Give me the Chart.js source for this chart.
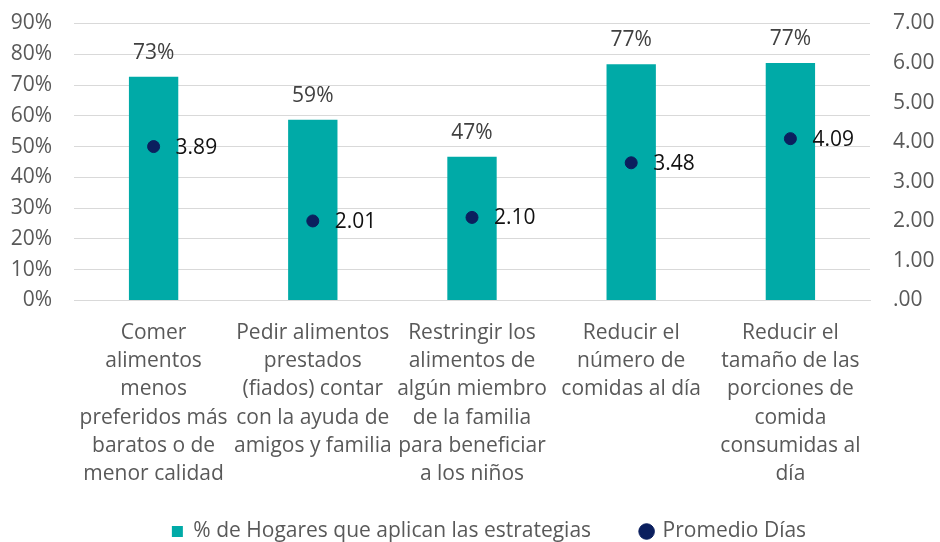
<!DOCTYPE html>
<html>
<head>
<meta charset="utf-8">
<script src="https://cdn.jsdelivr.net/npm/chart.js@4/dist/chart.umd.min.js"></script>
<style>
  html, body { margin: 0; padding: 0; background: #ffffff; }
  #wrap { width: 940px; height: 542px; position: relative; }
</style>
</head>
<body>
<div id="wrap"><canvas id="c" width="940" height="542"></canvas></div>
<script>
const categories = [
  ["Comer", "alimentos", "menos", "preferidos más", "baratos o de", "menor calidad"],
  ["Pedir alimentos", "prestados", "(fiados) contar", "con la ayuda de", "amigos y familia"],
  ["Restringir los", "alimentos de", "algún miembro", "de la familia", "para beneficiar", "a los niños"],
  ["Reducir el", "número de", "comidas al día"],
  ["Reducir el", "tamaño de las", "porciones de", "comida", "consumidas al", "día"]
];
const hogaresPct = [72.7, 58.7, 46.7, 76.8, 77.2];
const promedioDias = [3.89, 2.01, 2.10, 3.48, 4.09];
const seriesNames = ["% de Hogares que aplican las estrategias", "Promedio Días"];
const leftTicks = [0, 10, 20, 30, 40, 50, 60, 70, 80, 90];
const rightTicks = [0, 1, 2, 3, 4, 5, 6, 7];

const FONT = "'Open Sans', 'Noto Sans', sans-serif";
const FS = 21;
const TEAL = "#00aaa7";
const NAVY = "#0b1f5e";
const GRID = "#d9d9d9";

const noClipPlugin = {
  id: "noLabelClip",
  afterLayout(chart) {
    Object.values(chart.scales).forEach(s => { s._computeLabelArea = () => undefined; });
  }
};

const labelPlugin = {
  id: "valueLabels",
  afterDatasetsDraw(chart) {
    const ctx = chart.ctx;
    ctx.save();
    const m0 = chart.getDatasetMeta(0);
    ctx.font = FS + "px " + FONT;
    ctx.fillStyle = "#404040";
    ctx.textAlign = "center";
    ctx.textBaseline = "middle";
    m0.data.forEach((el, i) => {
      ctx.fillText(Math.round(hogaresPct[i]) + "%", el.x, el.y - 24);
    });
    const m1 = chart.getDatasetMeta(1);
    ctx.fillStyle = "#111111";
    ctx.textAlign = "left";
    m1.data.forEach((el, i) => {
      ctx.fillText(promedioDias[i].toFixed(2), el.x + 22, el.y + 1);
    });
    ctx.restore();
  }
};

function noVertPadding(scale) {
  scale.paddingTop = 0;
  scale.paddingBottom = 0;
}

new Chart(document.getElementById("c"), {
  data: {
    labels: categories,
    datasets: [
      {
        type: "bar",
        label: seriesNames[0],
        data: hogaresPct,
        backgroundColor: TEAL,
        borderWidth: 0,
        yAxisID: "y",
        order: 2,
        categoryPercentage: 1,
        barPercentage: 0.31,
        pointStyle: "rect"
      },
      {
        type: "line",
        label: seriesNames[1],
        data: promedioDias,
        showLine: false,
        pointRadius: 6,
        pointHoverRadius: 6,
        pointBackgroundColor: NAVY,
        pointBorderColor: NAVY,
        backgroundColor: NAVY,
        borderColor: NAVY,
        yAxisID: "y1",
        order: 1,
        pointStyle: "circle"
      }
    ]
  },
  options: {
    responsive: false,
    animation: false,
    layout: { padding: { top: 23.5, left: 19, right: -19, bottom: -10 } },
    plugins: {
      tooltip: { enabled: false },
      legend: {
        position: "bottom",
        labels: {
          usePointStyle: true,
          boxHeight: 11,
          boxWidth: 11,
          padding: 50,
          color: "#595959",
          font: { family: FONT, size: FS },
          sort: (a, b) => a.datasetIndex - b.datasetIndex
        }
      }
    },
    scales: {
      x: {
        grid: { display: false, drawTicks: false },
        border: { display: true, color: GRID, width: 1 },
        ticks: {
          color: "#595959",
          padding: 18.5,
          maxRotation: 0,
          autoSkip: false,
          font: { family: FONT, size: FS, lineHeight: 28.2 / FS }
        },
        afterFit(scale) { scale.height = 170.5; }
      },
      y: {
        position: "left",
        min: 0,
        max: 90,
        afterBuildTicks(scale) { scale.ticks = leftTicks.map(v => ({ value: v })); },
        grid: { color: GRID, lineWidth: 1, drawTicks: false },
        border: { display: false },
        ticks: {
          color: "#595959",
          padding: 22,
          font: { family: FONT, size: FS },
          callback: v => v + "%"
        },
        afterFit(scale) { scale.width = 55; noVertPadding(scale); }
      },
      y1: {
        position: "right",
        min: 0,
        max: 7,
        afterBuildTicks(scale) { scale.ticks = rightTicks.map(v => ({ value: v })); },
        grid: { display: false, drawTicks: false },
        border: { display: false },
        ticks: {
          color: "#595959",
          padding: 23,
          font: { family: FONT, size: FS },
          callback: v => (v === 0 ? ".00" : v.toFixed(2))
        },
        afterFit(scale) { scale.width = 89; noVertPadding(scale); }
      }
    }
  },
  plugins: [noClipPlugin, labelPlugin]
});
</script>
</body>
</html>
